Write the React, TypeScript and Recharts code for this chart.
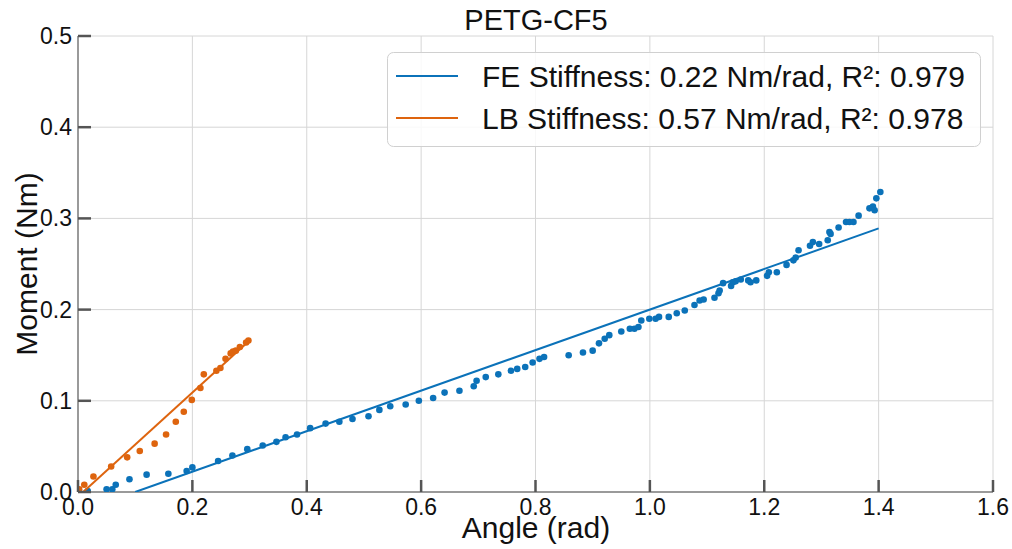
import React from 'react';
import { ScatterChart, Scatter, XAxis, YAxis, CartesianGrid } from 'recharts';

// FE (flexion-extension) measured points
const feAngle = [
  0.017, 0.05, 0.06, 0.066, 0.09, 0.12, 0.158, 0.19, 0.2, 0.245, 0.27, 0.296, 0.323, 0.347,
  0.363, 0.383, 0.406, 0.433, 0.457, 0.48, 0.508, 0.527, 0.546, 0.573, 0.596, 0.621, 0.641,
  0.667, 0.692, 0.697, 0.713, 0.735, 0.757, 0.768, 0.782, 0.795, 0.807, 0.815, 0.858, 0.883,
  0.9, 0.911, 0.921, 0.929, 0.95, 0.965, 0.973, 0.98, 0.985, 0.999, 1.01, 1.016, 1.033, 1.047,
  1.061, 1.078, 1.087, 1.094, 1.113, 1.12, 1.122, 1.128, 1.142, 1.145, 1.15, 1.159, 1.172,
  1.176, 1.186, 1.205, 1.208, 1.222, 1.239, 1.251, 1.255, 1.26, 1.28, 1.285, 1.296, 1.311,
  1.314, 1.316, 1.33, 1.343, 1.349, 1.356, 1.365, 1.384, 1.39, 1.393, 1.396, 1.403,
];
const feMoment = [
  0.001, 0.003, 0.003, 0.008, 0.014, 0.019, 0.02, 0.023, 0.027, 0.034, 0.04, 0.047, 0.051, 0.055,
  0.06, 0.063, 0.07, 0.075, 0.077, 0.08, 0.083, 0.09, 0.094, 0.096, 0.1, 0.103, 0.109,
  0.111, 0.116, 0.122, 0.126, 0.129, 0.133, 0.135, 0.137, 0.142, 0.146, 0.148, 0.15, 0.153,
  0.155, 0.163, 0.168, 0.172, 0.176, 0.179, 0.179, 0.181, 0.188, 0.19, 0.19, 0.192, 0.192, 0.196,
  0.199, 0.205, 0.21, 0.211, 0.213, 0.218, 0.221, 0.229, 0.226, 0.23, 0.231, 0.233, 0.232,
  0.23, 0.232, 0.237, 0.241, 0.241, 0.249, 0.254, 0.257, 0.265, 0.27, 0.274, 0.272, 0.276,
  0.285, 0.283, 0.29, 0.296, 0.296, 0.296, 0.303, 0.311, 0.313, 0.309, 0.322, 0.329,
];

// LB (lateral bending) measured points
const lbAngle = [
  0.002, 0.011, 0.027, 0.058, 0.086, 0.108, 0.134, 0.154, 0.171, 0.185, 0.199, 0.214, 0.22,
  0.242, 0.249, 0.258, 0.267, 0.271, 0.276, 0.283, 0.294, 0.298,
];
const lbMoment = [
  0.003, 0.008, 0.017, 0.028, 0.038, 0.045, 0.053, 0.063, 0.077, 0.088, 0.101, 0.114, 0.129,
  0.133, 0.136, 0.146, 0.152, 0.154, 0.155, 0.159, 0.164, 0.166,
];

// linear fit end points
const feFitAngle = [0.1, 1.4];
const feFitMoment = [0, 0.289];
const lbFitAngle = [0.009, 0.3];
const lbFitMoment = [0, 0.166];

const xTicks = [0, 0.2, 0.4, 0.6, 0.8, 1.0, 1.2, 1.4, 1.6];
const yTicks = [0, 0.1, 0.2, 0.3, 0.4, 0.5];

const legendLabels = [
  'FE Stiffness: 0.22 Nm/rad, R²: 0.979',
  'LB Stiffness: 0.57 Nm/rad, R²: 0.978',
];

const BLUE = '#0b72b9';
const ORANGE = '#de640e';
const FONT = '"Liberation Sans", Arial, sans-serif';

const zip = (xs: number[], ys: number[]) => xs.map((x, i) => ({ x, y: ys[i] }));

const feData = zip(feAngle, feMoment);
const lbData = zip(lbAngle, lbMoment);
const feFit = zip(feFitAngle, feFitMoment);
const lbFit = zip(lbFitAngle, lbFitMoment);

const XTick = (props: any) => {
  const { x, y, payload } = props;
  return (
    <g>
      <line x1={x} x2={x} y1={y} y2={y - 12} stroke="#555" strokeWidth={2.5} />
      <text x={x} y={y + 23} textAnchor="middle" fontSize={23} fill="#111" fontFamily={FONT}>
        {Number(payload.value).toFixed(1)}
      </text>
    </g>
  );
};

const YTick = (props: any) => {
  const { x, y, payload } = props;
  return (
    <g>
      <line x1={x} x2={x + 13} y1={y} y2={y} stroke="#555" strokeWidth={2.5} />
      <text x={x - 6} y={y + 8} textAnchor="end" fontSize={23} fill="#111" fontFamily={FONT}>
        {Number(payload.value).toFixed(1)}
      </text>
    </g>
  );
};

const dot = (color: string) => (props: any) =>
  <circle cx={props.cx} cy={props.cy} r={3.3} fill={color} />;

const noDot = () => <g />;

export default function App() {
  return (
    <div
      style={{
        position: 'absolute',
        left: 0,
        top: 0,
        width: 1012,
        height: 549,
        background: '#fff',
        fontFamily: FONT,
      }}
    >
      <ScatterChart width={1012} height={549} margin={{ top: 36, right: 19, bottom: 0, left: 0 }}>
        <CartesianGrid stroke="#d6d6d6" strokeWidth={1} />
        <XAxis
          type="number"
          dataKey="x"
          domain={[0, 1.6]}
          ticks={xTicks}
          interval={0}
          height={57}
          tickSize={0}
          tickMargin={0}
          tickLine={false}
          tick={<XTick />}
          axisLine={{ stroke: '#9a9a9a', strokeWidth: 2 }}
          allowDataOverflow
        />
        <YAxis
          type="number"
          dataKey="y"
          domain={[0, 0.5]}
          ticks={yTicks}
          interval={0}
          width={78}
          tickSize={0}
          tickMargin={0}
          tickLine={false}
          tick={<YTick />}
          axisLine={{ stroke: '#9a9a9a', strokeWidth: 2 }}
          allowDataOverflow
        />
        <Scatter data={feData} fill={BLUE} shape={dot(BLUE)} isAnimationActive={false} />
        <Scatter data={lbData} fill={ORANGE} shape={dot(ORANGE)} isAnimationActive={false} />
        <Scatter
          data={feFit}
          shape={noDot}
          line={{ stroke: BLUE, strokeWidth: 2 }}
          isAnimationActive={false}
        />
        <Scatter
          data={lbFit}
          shape={noDot}
          line={{ stroke: ORANGE, strokeWidth: 2 }}
          isAnimationActive={false}
        />
      </ScatterChart>

      {/* title, axis labels and legend */}
      <svg
        width={1012}
        height={549}
        style={{ position: 'absolute', left: 0, top: 0, pointerEvents: 'none' }}
        fontFamily={FONT}
      >
        <text x={536} y={30} textAnchor="middle" fontSize={29} fill="#111">
          PETG-CF5
        </text>
        <text x={536} y={538} textAnchor="middle" fontSize={30} fill="#111">
          Angle (rad)
        </text>
        <text
          x={37}
          y={264}
          textAnchor="middle"
          fontSize={30}
          fill="#111"
          transform="rotate(-90 37 264)"
        >
          Moment (Nm)
        </text>

        <rect
          x={387.5}
          y={52.5}
          width={593}
          height={94}
          rx={6}
          fill="rgba(255,255,255,0.85)"
          stroke="#d0d0d0"
        />
        {legendLabels.map((label, i) => (
          <g key={label}>
            <line
              x1={396}
              x2={458}
              y1={76 + i * 42}
              y2={76 + i * 42}
              stroke={i === 0 ? BLUE : ORANGE}
              strokeWidth={2}
            />
            <text x={482} y={87 + i * 42} fontSize={30} fill="#111">
              {label}
            </text>
          </g>
        ))}
      </svg>
    </div>
  );
}
